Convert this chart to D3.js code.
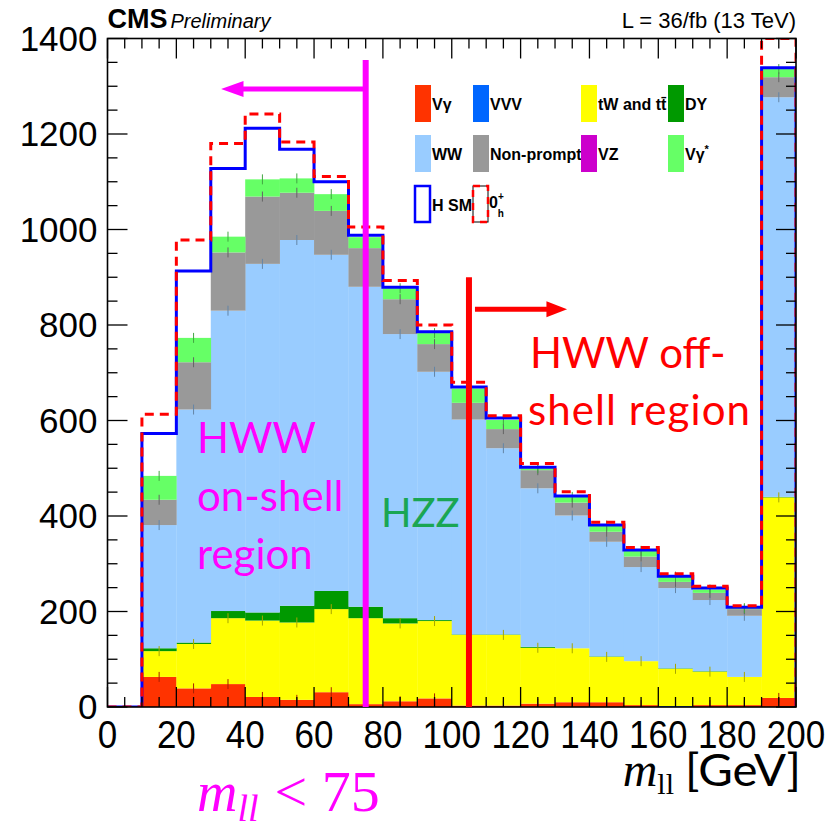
<!DOCTYPE html>
<html>
<head>
<meta charset="utf-8">
<script src="https://cdn.jsdelivr.net/npm/d3@7"></script>
<style>
  body { margin: 0; background: #fff; }
  svg { display: block; }
</style>
</head>
<body>
<svg id="chart" width="837" height="833"></svg>
<script>
// Lower edge of each m_ll bin [GeV]; every bin is 10 GeV wide
const binLow = [10, 20, 30, 40, 50, 60, 70, 80, 90, 100, 110, 120, 130, 140, 150, 160, 170, 180, 190];

// Expected events per bin, one list per process (stacked bottom to top)
const vGamma    = [63, 39, 48, 21, 15, 31, 6, 12, 18, 3, 3, 7, 10, 10, 4, 0, 4, 4, 19];
const vvv       = [0, 0, 0, 0, 0, 0, 0, 0, 0, 0, 0, 0, 0, 0, 0, 2, 0, 0, 0];
const topQuark  = [54, 93, 138, 160, 162, 174, 180, 163, 162, 148, 148, 117, 113, 95, 92, 78, 70, 59, 420];
const dy        = [6, 3, 15, 17, 35, 38, 24, 11, 2, 1, 1, 2, 0, 1, 0, 1, 1, 0, 1];
const ww        = [258, 488, 629, 730, 766, 704, 670, 595, 520, 450, 390, 332, 278, 240, 197, 168, 149, 128, 837];
const nonPrompt = [53, 99, 122, 141, 99, 92, 81, 73, 58, 35, 40, 38, 27, 21, 22, 13, 15, 14, 42];
const vz        = [0, 0, 0, 0, 0, 0, 0, 0, 0, 0, 0, 0, 0, 0, 0, 0, 0, 0, 0];
const vGammaSt  = [50, 51, 33, 36, 30, 35, 23, 23, 23, 30, 19, 4, 12, 13, 12, 11, 7, 2, 17];

// Signal hypotheses added on top of the background sum
const higgsSM   = [89, 140, 143, 107, 61, 26, 4, 2, 3, 3, 4, 2, 2, 1, 2, 1, 3, 2, 3];
const higgs0hp  = [129, 205, 195, 137, 76, 37, 21, 16, 17, 13, 9, 10, 11, 7, 7, 6, 7, 5, 64];

// Axis ticks
const yMajorTicks = [0, 200, 400, 600, 800, 1000, 1200, 1400];
const xMajorTicks = [0, 20, 40, 60, 80, 100, 120, 140, 160, 180, 200];

const processes = [
  { key: "vGamma",    values: vGamma,    color: "#ff3300", label: "Vγ" },
  { key: "vvv",       values: vvv,       color: "#0066ff", label: "VVV" },
  { key: "topQuark",  values: topQuark,  color: "#ffff00", label: "tW and tt\u0304" },
  { key: "dy",        values: dy,        color: "#009900", label: "DY" },
  { key: "ww",        values: ww,        color: "#99ccff", label: "WW" },
  { key: "nonPrompt", values: nonPrompt, color: "#999999", label: "Non-prompt" },
  { key: "vz",        values: vz,        color: "#cc00cc", label: "VZ" },
  { key: "vGammaSt",  values: vGammaSt,  color: "#66ff66", label: "Vγ*" }
];

const svg = d3.select("#chart");
const plot = { left: 107.5, right: 796, top: 38.5, bottom: 707 };

const x = d3.scaleLinear().domain([0, 200]).range([plot.left, plot.right]);
const y = d3.scaleLinear().domain([0, 1400]).range([plot.bottom, plot.top]);

svg.append("defs").append("clipPath").attr("id", "plotClip")
  .append("rect")
  .attr("x", plot.left).attr("y", plot.top)
  .attr("width", plot.right - plot.left).attr("height", plot.bottom - plot.top);

// Table of rows for the stack
const rows = binLow.map((lo, i) => {
  const r = { lo };
  processes.forEach(p => { r[p.key] = p.values[i]; });
  return r;
});
const stack = d3.stack().keys(processes.map(p => p.key));
const layers = stack(rows);

const g = svg.append("g").attr("clip-path", "url(#plotClip)");

// Stacked background histograms
layers.forEach((layer, li) => {
  const p = processes[li];
  g.append("g").selectAll("rect")
    .data(layer)
    .join("rect")
    .attr("x", d => x(d.data.lo))
    .attr("width", d => x(d.data.lo + 10) - x(d.data.lo) + 0.3)
    .attr("y", d => y(d[1]))
    .attr("height", d => Math.max(0, y(d[0]) - y(d[1])))
    .attr("fill", p.color);
});

// Small statistical error markers at the top of each visible component
const barKeys = ["vGamma", "topQuark", "ww", "nonPrompt", "vGammaSt"];
layers.forEach((layer, li) => {
  const p = processes[li];
  if (!barKeys.includes(p.key)) return;
  g.append("g").selectAll("line")
    .data(layer.filter(d => d[1] - d[0] > 0))
    .join("line")
    .attr("x1", d => x(d.data.lo + 5))
    .attr("x2", d => x(d.data.lo + 5))
    .attr("y1", d => y(d[1]) - 5)
    .attr("y2", d => y(d[1]) + 5)
    .attr("stroke", d3.color(p.color).darker(1.2))
    .attr("stroke-width", 1);
});

// Background sum plus signal, as step outlines
const bkgTotal = binLow.map((_, i) => processes.reduce((s, p) => s + p.values[i], 0));
function outline(signal) {
  const pts = [[0, 0]];
  binLow.forEach((lo, i) => pts.push([lo, bkgTotal[i] + signal[i]]));
  pts.push([200, 0]);
  return pts;
}
const stepLine = d3.line().x(d => x(d[0])).y(d => y(d[1])).curve(d3.curveStepAfter);

g.append("path")
  .attr("d", stepLine(outline(higgsSM)))
  .attr("fill", "none")
  .attr("stroke", "#0000ff")
  .attr("stroke-width", 3);

g.append("path")
  .attr("d", stepLine(outline(higgs0hp)))
  .attr("fill", "none")
  .attr("stroke", "#ff0000")
  .attr("stroke-width", 3)
  .attr("stroke-dasharray", "9,6");

// Frame and inward ticks on all four sides
const axes = svg.append("g").attr("stroke", "#000");
const yMinor = d3.range(0, 1401, 50);
const xMinor = d3.range(0, 201, 5);
yMinor.forEach(v => {
  const len = yMajorTicks.includes(v) ? 20 : 10;
  axes.append("line").attr("x1", plot.left).attr("x2", plot.left + len)
    .attr("y1", y(v)).attr("y2", y(v)).attr("stroke-width", 1.3);
  axes.append("line").attr("x1", plot.right).attr("x2", plot.right - len)
    .attr("y1", y(v)).attr("y2", y(v)).attr("stroke-width", 1.3);
});
xMinor.forEach(v => {
  const len = xMajorTicks.includes(v) ? 20 : 10;
  axes.append("line").attr("x1", x(v)).attr("x2", x(v))
    .attr("y1", plot.bottom).attr("y2", plot.bottom - len).attr("stroke-width", 1.3);
  axes.append("line").attr("x1", x(v)).attr("x2", x(v))
    .attr("y1", plot.top).attr("y2", plot.top + len).attr("stroke-width", 1.3);
});
axes.append("rect")
  .attr("x", plot.left).attr("y", plot.top)
  .attr("width", plot.right - plot.left).attr("height", plot.bottom - plot.top)
  .attr("fill", "none").attr("stroke-width", 1.6);

// Tick labels
const labelFont = "'Liberation Sans', Arial, Helvetica, sans-serif";
svg.append("g").selectAll("text")
  .data(yMajorTicks)
  .join("text")
  .attr("x", plot.left - 10)
  .attr("y", d => y(d) + 12)
  .attr("text-anchor", "end")
  .attr("font-family", labelFont)
  .attr("font-size", 35)
  .attr("fill", "#000")
  .text(d => d);

// x labels are drawn slightly tall, as in the ROOT canvas
svg.append("g").selectAll("text")
  .data(xMajorTicks)
  .join("text")
  .attr("transform", d => `translate(${x(d)},${plot.bottom + 41}) scale(1,1.1)`)
  .attr("text-anchor", "middle")
  .attr("font-family", labelFont)
  .attr("font-size", 35)
  .attr("fill", "#000")
  .text(d => d);

// Header
const hdr = svg.append("text").attr("x", plot.left).attr("y", 28)
  .attr("font-family", labelFont).attr("fill", "#000");
hdr.append("tspan").attr("font-size", 27).attr("font-weight", "bold").text("CMS");
hdr.append("tspan").attr("font-size", 20).attr("font-style", "italic").attr("dx", 3).text("Preliminary");
svg.append("text").attr("x", plot.right).attr("y", 28)
  .attr("text-anchor", "end")
  .attr("font-family", labelFont).attr("font-size", 22).attr("fill", "#000")
  .text("L = 36/fb (13 TeV)");

// Legend
const legCols = [415, 473, 581, 668];
const legRows = [85, 135, 186];
const leg = svg.append("g").attr("font-family", labelFont).attr("font-weight", "bold")
  .attr("font-size", 16).attr("fill", "#000");
processes.forEach((p, i) => {
  const cx = legCols[i % 4], ry = legRows[Math.floor(i / 4)];
  leg.append("rect").attr("x", cx).attr("y", ry).attr("width", 16).attr("height", 37)
    .attr("fill", p.color);
  const t = leg.append("text").attr("x", cx + 17).attr("y", ry + 25);
  if (p.key === "vGammaSt") {
    t.append("tspan").text("Vγ");
    t.append("tspan").attr("font-size", 11).attr("dy", -7).text("*");
  } else {
    t.text(p.label);
  }
});
leg.append("rect").attr("x", 415).attr("y", legRows[2]).attr("width", 15).attr("height", 36)
  .attr("fill", "none").attr("stroke", "#0000ff").attr("stroke-width", 2.5);
leg.append("text").attr("x", 432).attr("y", legRows[2] + 25).text("H SM");
leg.append("rect").attr("x", 473).attr("y", legRows[2]).attr("width", 15).attr("height", 36)
  .attr("fill", "none").attr("stroke", "#000").attr("stroke-width", 1);
leg.append("rect").attr("x", 473).attr("y", legRows[2]).attr("width", 15).attr("height", 36)
  .attr("fill", "none").attr("stroke", "#ff0000").attr("stroke-width", 2.5)
  .attr("stroke-dasharray", "7,6");
const zh = leg.append("text").attr("x", 489).attr("y", legRows[2] + 22);
zh.append("tspan").text("0");
zh.append("tspan").attr("font-size", 10).attr("dy", -8).text("+");
zh.append("tspan").attr("font-size", 10).attr("dx", -6).attr("dy", 17).text("h");

// Analysis region markers
const onShellCut = 75, offShellCut = 105;
const magenta = "#ff00ff";
svg.append("line")
  .attr("x1", x(onShellCut)).attr("x2", x(onShellCut))
  .attr("y1", y(1355)).attr("y2", y(0))
  .attr("stroke", magenta).attr("stroke-width", 6);
svg.append("line")
  .attr("x1", x(onShellCut)).attr("x2", x(39))
  .attr("y1", y(1294)).attr("y2", y(1294))
  .attr("stroke", magenta).attr("stroke-width", 5);
svg.append("path")
  .attr("d", `M${x(33)},${y(1294)} L${x(39.5)},${y(1294) - 8} L${x(39.5)},${y(1294) + 8} Z`)
  .attr("fill", magenta);

svg.append("line")
  .attr("x1", x(offShellCut)).attr("x2", x(offShellCut))
  .attr("y1", y(900)).attr("y2", y(0))
  .attr("stroke", "#ff0000").attr("stroke-width", 6);
svg.append("line")
  .attr("x1", x(offShellCut) + 6).attr("x2", x(128))
  .attr("y1", y(833)).attr("y2", y(833))
  .attr("stroke", "#ff0000").attr("stroke-width", 5);
svg.append("path")
  .attr("d", `M${x(133.5)},${y(833)} L${x(127.5)},${y(833) - 8} L${x(127.5)},${y(833) + 8} Z`)
  .attr("fill", "#ff0000");

// Region annotations
const annFont = "Lato, 'Open Sans', sans-serif";
const onShell = svg.append("text").attr("font-family", annFont).attr("font-size", 42)
  .attr("fill", magenta);
["HWW", "on-shell", "region"].forEach((s, i) => {
  onShell.append("tspan").attr("x", 197).attr("y", 453 + i * 58).text(s);
});
svg.append("text").attr("x", 381).attr("y", 527)
  .attr("font-family", annFont).attr("font-size", 40).attr("fill", "#1aa653")
  .text("HZZ");
const offShell = svg.append("text").attr("font-family", annFont).attr("font-size", 42)
  .attr("fill", "#ff0000");
offShell.append("tspan").attr("x", 530).attr("y", 368).text("HWW off-");
offShell.append("tspan").attr("x", 528).attr("y", 425).attr("textLength", 222)
  .attr("lengthAdjust", "spacing").text("shell region");

// Axis title and cut label
const serif = "'Liberation Serif', 'DejaVu Serif', serif";
const xt = svg.append("text").attr("x", 801).attr("y", 786).attr("fill", "#000")
  .attr("text-anchor", "end").attr("font-size", 48);
xt.append("tspan").attr("font-family", serif).attr("font-style", "italic").text("m");
xt.append("tspan").attr("font-family", serif).attr("font-size", 30).attr("dy", 8).text("ll");
xt.append("tspan").attr("font-family", annFont).attr("font-size", 44).attr("dy", -8).attr("dx", 11)
  .attr("textLength", 116).attr("lengthAdjust", "spacingAndGlyphs").text("[GeV]");

const cut = svg.append("text").attr("x", 197).attr("y", 811).attr("fill", magenta)
  .attr("font-family", serif).attr("font-size", 56);
cut.append("tspan").attr("font-style", "italic").text("m");
cut.append("tspan").attr("font-style", "italic").attr("font-size", 38).attr("dy", 10).text("ll");
cut.append("tspan").attr("dy", -10).attr("dx", 16).attr("font-size", 58).text("< 75");
</script>
</body>
</html>
